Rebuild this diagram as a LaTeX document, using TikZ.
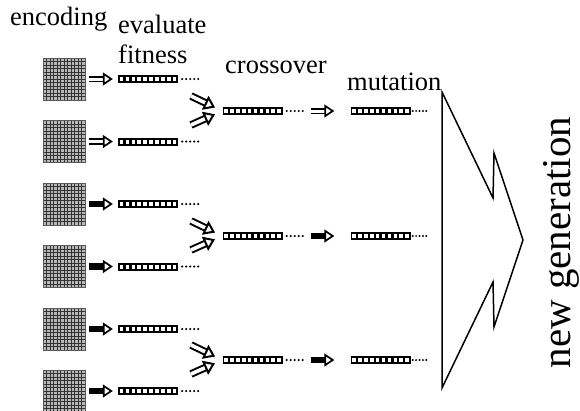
\documentclass[tikz,border=0pt]{standalone}
\usepackage{fontspec}
\setmainfont{Liberation Serif}
\usetikzlibrary{arrows.meta}

\tikzset{
  headtext/.style={inner sep=0pt, font=\fontsize{26.5}{30}\selectfont},
  gridbox/.style={draw=black!65, fill=black!28, minimum size=42pt, inner sep=0pt, line width=0.5pt,
    path picture={\draw[black!80, line width=0.5pt, step=3.5pt] (path picture bounding box.south west) grid (path picture bounding box.north east);}},
  chrom/.style={fill=black, minimum width=60pt, minimum height=8pt, inner sep=0pt,
    path picture={\draw[white, line width=4pt, dash pattern=on 3.6pt off 2.3pt] ([xshift=1.7pt]path picture bounding box.west) -- (path picture bounding box.east);}},
  hollowarr/.style={double=white, double distance=3pt, line width=1.7pt,
    -{Triangle[fill=white, line width=1.7pt, length=10pt, width=13pt]}},
  solidarr/.style={line width=6.4pt,
    -{Triangle[fill=white, line width=1.7pt, length=10pt, width=13pt]}},
  crossarr/.style={double=white, double distance=3.6pt, line width=2pt,
    -{Triangle[fill=white, line width=2pt, length=11pt, width=15pt]}}
}

\begin{document}
\begin{tikzpicture}[x=1pt, y=-1pt]
\useasboundingbox (0,0) rectangle (580,410);

% population: encoded individuals and their strings
\foreach \y [count=\i] in {79,141.5,204,266.5,329,391} {
  \node[gridbox] (sq\i) at (64,\y) {};
  \node[chrom] (ch\i) at (148,\y) {};
  \foreach \k in {0,...,4}
    \fill ([xshift=4pt+4*\k pt]ch\i.east) circle (1.2pt);
}
\foreach \i in {1,2}
  \draw[hollowarr, shorten <=4pt, shorten >=5pt] (sq\i) -- (ch\i);
\foreach \i in {3,...,6}
  \draw[solidarr, shorten <=4pt, shorten >=5pt] (sq\i) -- (ch\i);

% crossover and mutation
\foreach \y [count=\j] in {111,236,360} {
  \node[chrom] (cx\j) at (252.5,\y) {};
  \coordinate (pa\j) at (191,\y-15);
  \coordinate (pb\j) at (191,\y+14);
  \draw[crossarr, shorten >=8pt] (pa\j) -- (cx\j.west);
  \draw[crossarr, shorten >=8pt] (pb\j) -- (cx\j.west);
  \node[chrom] (mx\j) at (380.5,\y) {};
  \foreach \k in {0,...,4} {
    \fill ([xshift=4pt+4*\k pt]cx\j.east) circle (1.2pt);
    \fill ([xshift=2pt+3.4*\k pt]mx\j.east) circle (1.1pt);
  }
}
\draw[hollowarr, shorten <=28pt, shorten >=16pt] (cx1) -- (mx1);
\draw[solidarr, shorten <=28pt, shorten >=16pt] (cx2) -- (mx2);
\draw[solidarr, shorten <=28pt, shorten >=16pt] (cx3) -- (mx3);

% big arrow into the new generation
\draw[line width=1.5pt, line join=miter] (442,92) -- (493,198) -- (494,153) -- (523,240)
  -- (494,327) -- (493,282) -- (442,388) -- cycle;

% labels
\node[headtext, anchor=base west] (encoding) at (10,25) {encoding};
\node[headtext, anchor=base west] (evaluate) at (118,33) {evaluate};
\node[headtext, anchor=base west] (fitness) at (118,63) {fitness};
\node[headtext, anchor=base west] (crossover) at (225,73) {crossover};
\node[headtext, anchor=base west] (mutation) at (347,90) {mutation};
\node[inner sep=0pt, font=\fontsize{41}{48}\selectfont, rotate=90, anchor=base] (newgen) at (570,242.5) {new generation};
\end{tikzpicture}
\end{document}
